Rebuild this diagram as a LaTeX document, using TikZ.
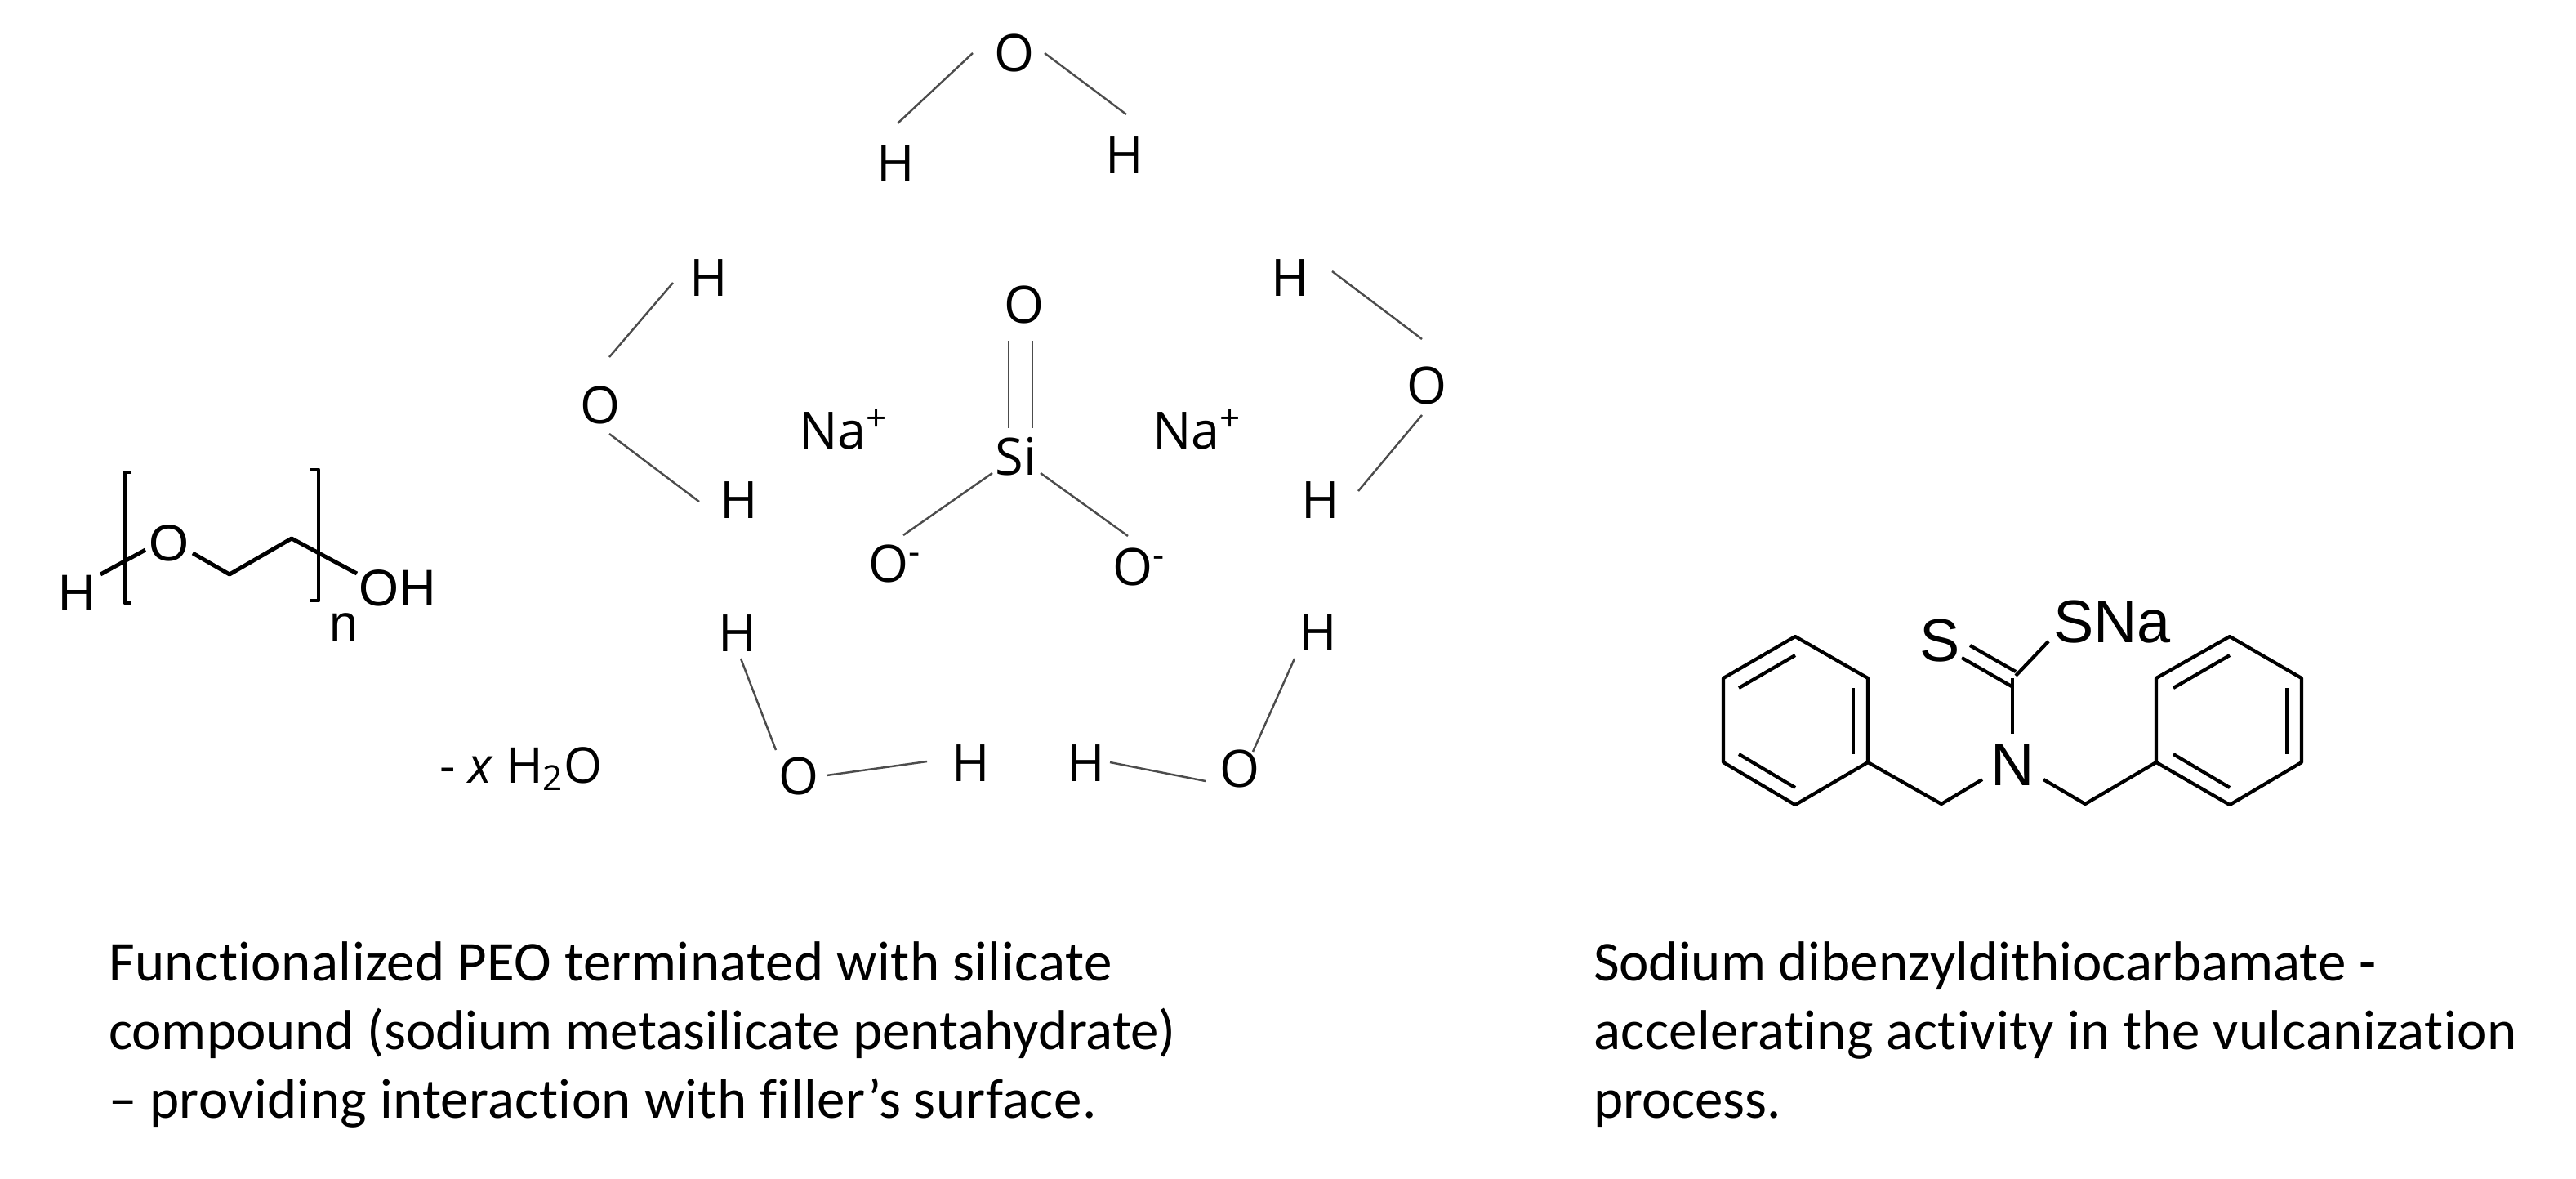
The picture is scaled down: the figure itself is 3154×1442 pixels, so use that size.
\documentclass[tikz,border=0pt]{standalone}
\usepackage{fontspec}
\setmainfont[RawFeature={-liga;-clig;-dlig;-calt}]{Carlito}
\newfontfamily\atomfont{Open Sans}
\newfontfamily\chemfont{Liberation Sans}
\newcommand{\spaced}[2]{{\addfontfeature{LetterSpace=#1}#2}}
\usetikzlibrary{calc}
\tikzset{
  atom/.style={inner sep=0pt,outer sep=0pt,text height=12.8pt,text depth=0pt,font=\atomfont\fontsize{17.9}{21}\selectfont},
  chem/.style={inner sep=0pt,outer sep=0pt,text height=12.8pt,text depth=0pt,font=\chemfont\fontsize{17.9}{21}\selectfont},
  chembig/.style={inner sep=0pt,outer sep=0pt,text height=15pt,text depth=0pt,font=\chemfont\fontsize{21}{25}\selectfont},
  wbond/.style={draw=black!70,line width=0.7pt},
  pbond/.style={draw=black,line width=1.4pt,line join=round},
  rbond/.style={draw=black,line width=1.2pt,line join=round},
  caption/.style={inner sep=0pt,outer sep=0pt,anchor=north west,align=left,font=\fontsize{19.6}{23.9}\selectfont}
}
\begin{document}
\begin{tikzpicture}[x=0.01cm,y=-0.01cm]
\useasboundingbox (0,0) rectangle (3154,1442);
\fill[white] (0,0) rectangle (3154,1442);
% top water
\node[atom] (Oa) at (1242,65) {O};
\node[atom] (Ha1) at (1097,200) {H};
\node[atom] (Ha2) at (1377,190) {H};
\draw[wbond] ($(Oa)+(-51,0)$) -- ($(Ha1)+(2,-49)$);
\draw[wbond] ($(Oa)+(37,0)$) -- ($(Ha2)+(2,-50)$);
% left water
\node[atom] (Ob) at (735,496) {O};
\node[atom] (Hb1) at (868,340) {H};
\node[atom] (Hb2) at (905,612) {H};
\draw[wbond] ($(Hb1)+(-44,6)$) -- ($(Ob)+(11,-59)$);
\draw[wbond] ($(Ob)+(11,35)$) -- ($(Hb2)+(-49,2)$);
% right water
\node[atom] (Oc) at (1747,472) {O};
\node[atom] (Hc1) at (1580,340) {H};
\node[atom] (Hc2) at (1617,612) {H};
\draw[wbond] ($(Hc1)+(51,-8)$) -- ($(Oc)+(-6,-57)$);
\draw[wbond] ($(Oc)+(-6,36)$) -- ($(Hc2)+(46,-11)$);
% lower left water
\node[atom] (Od) at (978,950) {O};
\node[atom] (Hd1) at (903,775) {H};
\node[atom] (Hd2) at (1189,934) {H};
\draw[wbond] ($(Hd1)+(4,31)$) -- ($(Od)+(-28,-32)$);
\draw[wbond] ($(Od)+(34,-1)$) -- ($(Hd2)+(-54,-2)$);
% lower right water
\node[atom] (Oe) at (1518,941) {O};
\node[atom] (He1) at (1330,934) {H};
\node[atom] (He2) at (1614,774) {H};
\draw[wbond] ($(He1)+(29,-1)$) -- ($(Oe)+(-42,15)$);
\draw[wbond] ($(Oe)+(16,-21)$) -- ($(He2)+(-29,32)$);
% silicate
\node[atom] (Osi) at (1254,373) {O};
\node[atom] (Si) at (1244,559) {Si};
\node[atom] (OL) at (1088,690) {O\rlap{\textsuperscript{-}}};
\node[atom] (OR) at (1387,694) {O\rlap{\textsuperscript{-}}};
\node[atom,anchor=west] (NaL) at (978,527) {Na\rlap{\textsuperscript{+}}};
\node[atom,anchor=west] (NaR) at (1411,527) {Na\rlap{\textsuperscript{+}}};
\draw[wbond] ($(Osi)+(-19,44)$) -- ($(Si)+(-9,-35)$);
\draw[wbond] ($(Osi)+(10,44)$) -- ($(Si)+(20,-35)$);
\draw[wbond] ($(Si)+(-29,20)$) -- ($(OL)+(18,-35)$);
\draw[wbond] ($(Si)+(30,20)$) -- ($(OR)+(-6,-38)$);
% water count
\node[inner sep=0pt,anchor=base west,font=\atomfont\fontsize{17.2}{21}\selectfont] (xw) at (538,958) {- \textit{x} H\textsubscript{2}O};
% PEO
\node[chem] (Hp) at (94,725) {H};
\node[chem] (Op) at (207,664) {O};
\node[chem] (OHp) at (487,719) {OH};
\node[chem] (np) at (421,762) {n};
\coordinate (C1) at (281,703);
\coordinate (C2) at (357,659);
\coordinate (BLa) at (161,578);
\coordinate (BLb) at (153,578);
\coordinate (BLc) at (153,738);
\coordinate (BLd) at (161,738);
\coordinate (BRa) at (380,575);
\coordinate (BRb) at (390,575);
\coordinate (BRc) at (390,735);
\coordinate (BRd) at (380,735);
\draw[pbond] ($(Hp)+(29,-22)$) -- ($(Op)+(-29,9)$);
\draw[pbond] ($(Op)+(29,13)$) -- (C1) -- (C2) -- ($(OHp)+(-50,-17)$);
\draw[pbond] (BLa) -- (BLb) -- (BLc) -- (BLd);
\draw[pbond] (BRa) -- (BRb) -- (BRc) -- (BRd);
% dithiocarbamate
\node[chembig] (N) at (2464,935) {N};
\node[chembig] (S) at (2375,783) {S};
\node[chembig,anchor=west] (SNa) at (2514,760) {SNa};
\coordinate (C) at (2464,830);
\coordinate (CHa) at (2377,984);
\coordinate (CHb) at (2553,984);
\coordinate (A1) at (2198,779);
\coordinate (A2) at (2287,830);
\coordinate (A3) at (2287,933);
\coordinate (A4) at (2198,985);
\coordinate (A5) at (2110,933);
\coordinate (A6) at (2110,830);
\coordinate (B1) at (2730,779);
\coordinate (B2) at (2818,830);
\coordinate (B3) at (2818,933);
\coordinate (B4) at (2730,985);
\coordinate (B5) at (2640,933);
\coordinate (B6) at (2640,830);
\draw[rbond] (A1) -- (A2) -- (A3) -- (A4) -- (A5) -- (A6) -- cycle;
\draw[rbond] (B1) -- (B2) -- (B3) -- (B4) -- (B5) -- (B6) -- cycle;
\coordinate (ai1) at (2129,842); \coordinate (ai2) at (2198,802);
\coordinate (ai3) at (2269,842); \coordinate (ai4) at (2269,923);
\coordinate (ai5) at (2129,923); \coordinate (ai6) at (2198,964);
\coordinate (bi1) at (2661,842); \coordinate (bi2) at (2730,802);
\coordinate (bi3) at (2800,842); \coordinate (bi4) at (2800,923);
\coordinate (bi5) at (2661,923); \coordinate (bi6) at (2730,964);
\draw[rbond] (ai1) -- (ai2);
\draw[rbond] (ai3) -- (ai4);
\draw[rbond] (ai5) -- (ai6);
\draw[rbond] (bi1) -- (bi2);
\draw[rbond] (bi3) -- (bi4);
\draw[rbond] (bi5) -- (bi6);
\draw[rbond] (A3) -- (CHa) -- ($(N)+(-37,19)$);
\draw[rbond] ($(N)+(38,19)$) -- (CHb) -- (B5);
\draw[rbond] (C) -- ($(N)+(0,-37)$);
\draw[rbond] ($(C)+(4,-3)$) -- ($(SNa.west)+(-6,25)$);
\draw[rbond] ($(S)+(27,22)$) -- ($(C)+(-1,10)$);
\draw[rbond] ($(S)+(37,7)$) -- ($(C)+(4,-8)$);
% captions
\node[caption] (capL) at (133,1153) {\spaced{0.68}{Functionalized PEO terminated with silicate}\\compound (sodium metasilicate pentahydrate)\\\spaced{0.56}{– providing interaction with filler’s surface.}};
\node[caption] (capR) at (1951,1153) {Sodium dibenzyldithiocarbamate -\\\spaced{0.6}{accelerating activity in the vulcanization}\\process.};
\end{tikzpicture}
\end{document}
